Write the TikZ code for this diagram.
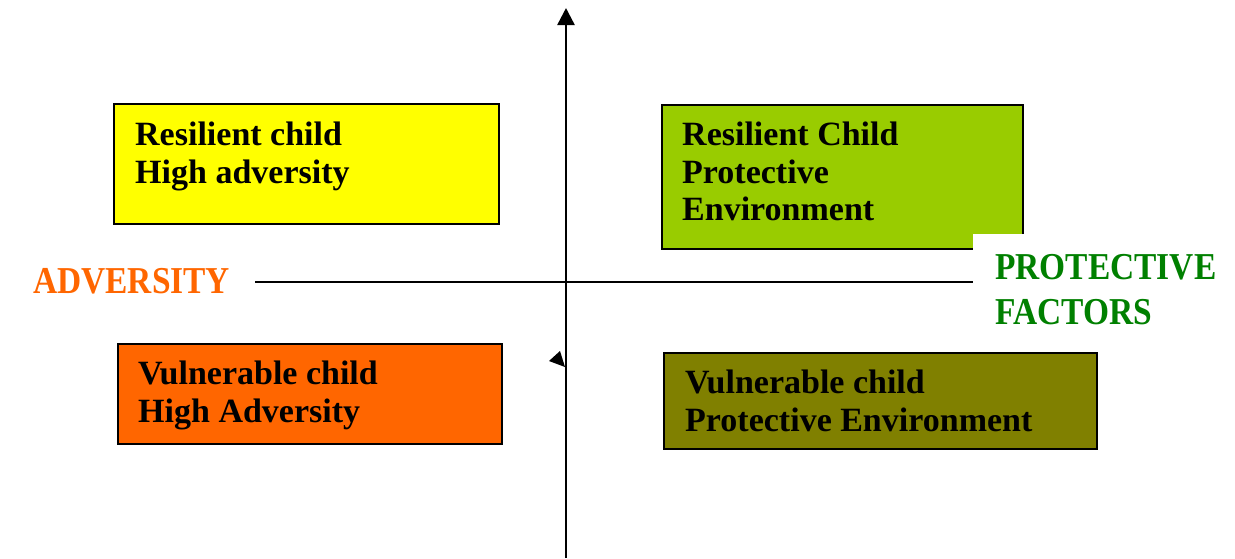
\documentclass[tikz,border=0pt]{standalone}
\usepackage{fontspec}
\setmainfont{Liberation Serif}
\newfontfamily\labfont[FakeStretch=0.88]{Liberation Serif}
\usetikzlibrary{arrows.meta}
\definecolor{cyel}{HTML}{FFFF00}
\definecolor{cgrn}{HTML}{99CC00}
\definecolor{corg}{HTML}{FF6600}
\definecolor{coli}{HTML}{808000}
\definecolor{clab}{HTML}{008000}
\begin{document}
\begin{tikzpicture}[x=1pt,y=-1pt,
  quad/.style={draw=black,line width=1.8pt,anchor=north west,inner sep=0pt,minimum width=#1},
  boxtext/.style={anchor=north west,inner sep=0pt,align=left,font=\fontsize{34}{37.5}\selectfont\bfseries},
  axislabel/.style={inner sep=0pt,align=left,font=\labfont\fontsize{38}{45}\selectfont\bfseries},
  axis/.style={line width=2.4pt}]
\useasboundingbox (0,0) rectangle (1235,558);
% axes
\coordinate (vB) at (566,558);
\coordinate (vT) at (566,8);
\coordinate (hL) at (255,282);
\coordinate (hR) at (973,282);
\draw[axis,-{Triangle[width=17pt,length=17pt]}] (vB) -- (vT);
\draw[axis] (hL) -- (hR);
\fill (549,361) -- (560,351) -- (565,367) -- cycle;
% boxes
\node[quad=385pt,minimum height=120pt,fill=cyel] (ry) at (113,103) {};
\node[quad=361pt,minimum height=144pt,fill=cgrn] (rg) at (661,104) {};
\node[quad=384pt,minimum height=100pt,fill=corg] (vo) at (117,343) {};
\node[quad=433pt,minimum height=96pt,fill=coli] (vl) at (663,352) {};
% box texts
\node[boxtext] (tyel) at (135,122) {Resilient child\\High adversity};
\node[boxtext] (tgrn) at (682,122) {Resilient Child\\Protective\\Environment};
\node[boxtext] (torg) at (138,361) {Vulnerable child\\High Adversity};
\node[boxtext] (toli) at (685,370) {Vulnerable child\\Protective Environment};
% axis labels
\fill[white] (973,234) rectangle (1235,345);
\node[axislabel,text=corg,anchor=base west] (adv) at (33,293) {ADVERSITY};
\node[axislabel,text=clab,anchor=north west] (prot) at (995,254) {PROTECTIVE\\FACTORS};
\end{tikzpicture}
\end{document}
